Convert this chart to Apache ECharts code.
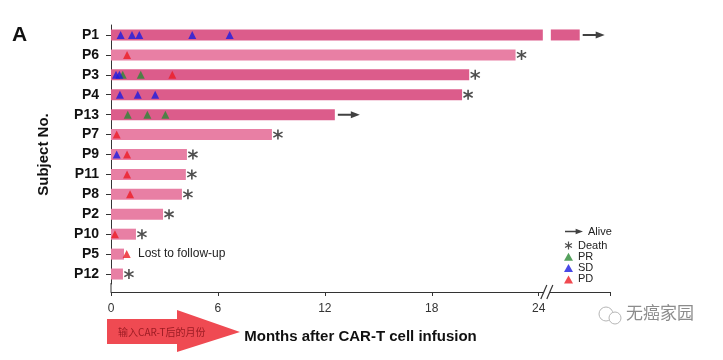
<!DOCTYPE html>
<html><head><meta charset="utf-8">
<script src="https://cdn.jsdelivr.net/npm/echarts@6/dist/echarts.min.js"></script>
<style>html,body{margin:0;padding:0;background:#fff}#c{width:723px;height:360px}</style>
</head><body><div id="c"></div>
<script>
// ---------- data ----------
const subjects = ['P1','P6','P3','P4','P13','P7','P9','P11','P8','P2','P10','P5','P12'];
const followUpMonths = [26.3, 22.7, 20.1, 19.7, 12.56, 9.03, 4.26, 4.2, 3.98, 2.92, 1.4, 0.73, 0.67];
const outcome = ['alive','death','death','death','alive','death','death','death','death','death','death','lost','death'];
const breakStart = 24.23;   // axis break drawn inside the P1 bar
const breakEnd = 24.68;
const darkSubjects = ['P1','P3','P4','P13'];
const prEvents = [[0.66,'P3'],[1.67,'P3'],[0.94,'P13'],[2.04,'P13'],[3.05,'P13']];
const sdEvents = [[0.54,'P1'],[1.18,'P1'],[1.59,'P1'],[4.56,'P1'],[6.66,'P1'],
                  [0.28,'P3'],[0.47,'P3'],[0.5,'P4'],[1.5,'P4'],[2.48,'P4'],[0.32,'P9']];
const pdEvents = [[0.9,'P6'],[3.44,'P3'],[0.32,'P7'],[0.9,'P9'],[0.9,'P11'],[1.07,'P8'],[0.22,'P10'],[0.88,'P5']];
const xTicks = [0, 6, 12, 18, 24];
const lostLabel = 'Lost to follow-up';

// ---------- styles ----------
const DARK = '#dc5c8b', LIGHT = '#e87fa4';
const FONT = '"Liberation Sans", Arial, sans-serif';
const ARROW = 'path://M0,2.5L13,2.5L13,0L22,3.5L13,7L13,4.5L0,4.5Z';
const AST = 'path://M-0.15,-1L0.15,-1L0.15,1L-0.15,1Z' +
  'M0.791,-0.630L0.941,-0.370L-0.791,0.630L-0.941,0.370Z' +
  'M-0.941,-0.370L-0.791,-0.630L0.941,0.370L0.791,0.630Z';

const seg1 = subjects.map((s, i) => {
  const v = outcome[i] === 'alive' && followUpMonths[i] > breakEnd ? breakStart : followUpMonths[i];
  if (outcome[i] === 'lost') {
    return { value: v, label: { show: true, position: 'right', distance: 14, formatter: lostLabel,
      color: '#222', fontSize: 12, fontFamily: FONT } };
  }
  return v;
});
const gap = subjects.map((s, i) => followUpMonths[i] > breakEnd ? breakEnd - breakStart : '-');
const seg2 = subjects.map((s, i) => followUpMonths[i] > breakEnd ? followUpMonths[i] - breakEnd : '-');
const deathPts = subjects.map((s, i) => outcome[i] === 'death' ? [followUpMonths[i], s] : null).filter(Boolean);
const alivePts = subjects.map((s, i) => outcome[i] === 'alive' ? [followUpMonths[i], s] : null).filter(Boolean);
const barColor = p => darkSubjects.includes(p.name) ? DARK : LIGHT;

const chart = echarts.init(document.getElementById('c'), null, { renderer: 'canvas' });
chart.setOption({
  animation: false,
  textStyle: { fontFamily: FONT },
  title: { text: 'A', left: 7, top: 20, textStyle: { fontSize: 21, fontWeight: 'bold', color: '#111', fontFamily: FONT } },
  grid: { left: 111, right: 113, top: 25, bottom: 76 },
  legend: [
    { data: [{ name: 'Alive', icon: ARROW }], left: 560, top: 221, itemWidth: 18, itemHeight: 7,
      selectedMode: false, textStyle: { fontSize: 11, color: '#222' } },
    { data: [{ name: 'Death', icon: AST }, { name: 'PR', icon: 'triangle' }, { name: 'SD', icon: 'triangle' }, { name: 'PD', icon: 'triangle' }],
      orient: 'vertical', left: 559, top: 235, itemWidth: 9, itemHeight: 8, itemGap: 0.3, selectedMode: false,
      textStyle: { fontSize: 11, color: '#222', lineHeight: 11 } }
  ],
  xAxis: {
    type: 'value', min: 0, max: 28, interval: 6, offset: 8,
    axisLine: { show: true, lineStyle: { color: '#333', width: 1 } },
    axisTick: { show: true, length: 4, lineStyle: { color: '#333' } },
    axisLabel: { margin: 11, fontSize: 12, color: '#333', formatter: v => xTicks.includes(v) ? String(v) : '' },
    splitLine: { show: false },
    name: 'Months after CAR-T cell infusion', nameLocation: 'middle', nameGap: 37,
    nameTextStyle: { fontSize: 15, fontWeight: 'bold', color: '#111' }
  },
  yAxis: {
    type: 'category', data: subjects, inverse: true,
    axisLine: { show: true, lineStyle: { color: '#333', width: 1 } },
    axisTick: { show: true, length: 5, alignWithLabel: true, lineStyle: { color: '#333' } },
    axisLabel: { fontSize: 14, fontWeight: 'bold', color: '#111', margin: 12 },
    name: 'Subject No.', nameLocation: 'middle', nameGap: 60, nameRotate: 90,
    nameTextStyle: { fontSize: 15, fontWeight: 'bold', color: '#111' }
  },
  series: [
    { name: 'bar1', type: 'bar', stack: 'fu', barWidth: 11, data: seg1, itemStyle: { color: barColor }, z: 2 },
    { name: 'gap', type: 'bar', stack: 'fu', barWidth: 11, data: gap, itemStyle: { color: 'rgba(0,0,0,0)' }, z: 2 },
    { name: 'bar2', type: 'bar', stack: 'fu', barWidth: 11, data: seg2, itemStyle: { color: barColor }, z: 2 },
    { name: 'Alive', type: 'scatter', data: alivePts, symbol: ARROW, symbolSize: [22, 7], symbolOffset: [14, 0],
      itemStyle: { color: '#111' }, z: 4 },
    { name: 'Death', type: 'scatter', data: deathPts, symbol: AST, symbolSize: 10, symbolOffset: [6, 0],
      itemStyle: { color: '#222' }, z: 4 },
    { name: 'PR', type: 'scatter', data: prEvents, symbol: 'triangle', symbolSize: [8, 8], itemStyle: { color: '#2a8a35' }, z: 5 },
    { name: 'SD', type: 'scatter', data: sdEvents, symbol: 'triangle', symbolSize: [8, 8], itemStyle: { color: '#1c1ce0' }, z: 5 },
    { name: 'PD', type: 'scatter', data: pdEvents, symbol: 'triangle', symbolSize: [8, 8], itemStyle: { color: '#ec1c24' }, z: 5 }
  ]
});

// decorations computed from the axes
const bx = chart.convertToPixel({ xAxisIndex: 0 }, (breakStart + breakEnd) / 2);
const x0 = chart.convertToPixel({ xAxisIndex: 0 }, 0);
const yBottom = chart.convertToPixel({ yAxisIndex: 0 }, subjects[subjects.length - 1]) + 10;
const axisY = yBottom + 8;
chart.setOption({
  graphic: [
    { type: 'line', shape: { x1: x0, y1: yBottom - 1, x2: x0, y2: axisY }, style: { stroke: '#333', lineWidth: 1 } },
    { type: 'rect', shape: { x: bx - 3, y: axisY - 2, width: 6, height: 4 }, style: { fill: '#fff' }, z: 10 },
    { type: 'line', shape: { x1: bx - 6, y1: axisY + 7, x2: bx, y2: axisY - 7 }, style: { stroke: '#333', lineWidth: 1.2 }, z: 11 },
    { type: 'line', shape: { x1: bx, y1: axisY + 7, x2: bx + 6, y2: axisY - 7 }, style: { stroke: '#333', lineWidth: 1.2 }, z: 11 },
    { type: 'polygon', shape: { points: [[107,319],[177,319],[177,310],[240,332],[177,352],[177,344],[107,344]] },
      style: { fill: '#ef4a52' }, z: 1 },
    { type: 'text', left: 118, top: 327, style: { text: '输入CAR-T后的月份', fill: '#9c1c24',
      font: '10px "Noto Sans CJK SC", sans-serif' }, z: 2 },
    { type: 'circle', shape: { cx: 606, cy: 314, r: 7 }, style: { fill: 'none', stroke: '#b5b5b5', lineWidth: 1 } },
    { type: 'circle', shape: { cx: 615, cy: 318, r: 6 }, style: { fill: '#fff', stroke: '#b5b5b5', lineWidth: 1 } },
    { type: 'text', left: 626, top: 304, style: { text: '无癌家园', fill: '#8c8c8c',
      font: '17px "Noto Sans CJK SC", sans-serif' } }
  ]
});
</script></body></html>
